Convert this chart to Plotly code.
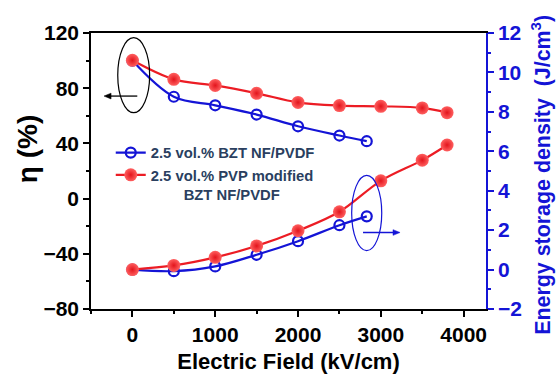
import plotly.graph_objects as go

# ---- data ----
field_bzt = [0, 500, 1000, 1500, 2000, 2500, 2830]
eff_bzt = [100, 73.8, 67.6, 60.9, 52.4, 45.7, 41.6]
ud_bzt = [0.0, -0.08, 0.16, 0.75, 1.44, 2.25, 2.7]

field_pvp = [0, 500, 1000, 1500, 2000, 2500, 3000, 3500, 3800]
eff_pvp = [100.2, 86.4, 82.0, 76.3, 69.7, 67.4, 66.9, 65.7, 62.3]
ud_pvp = [0.0, 0.21, 0.62, 1.2, 1.97, 2.93, 4.5, 5.55, 6.32]

name_bzt = "2.5 vol.% BZT NF/PVDF"
name_pvp = "2.5 vol.% PVP modified<br>" + "\u00a0" * 8 + "BZT NF/PVDF"

BLUE = "#1414d6"
RED = "#ec1c24"
FONT = "Liberation Sans"

red_marker = dict(symbol="circle", size=13, color="#ff6060",
                  gradient=dict(type="radial", color="#e3141c"), line=dict(width=0))
blue_marker = dict(symbol="circle-open", size=10, color=BLUE, line=dict(width=2.2, color=BLUE))

fig = go.Figure()
fig.add_trace(go.Scatter(x=field_bzt, y=eff_bzt, mode="lines+markers", name=name_bzt,
                         line=dict(color=BLUE, width=2.2, shape="spline"), marker=blue_marker,
                         yaxis="y"))
fig.add_trace(go.Scatter(x=field_pvp, y=eff_pvp, mode="lines+markers", name=name_pvp,
                         line=dict(color=RED, width=2.2, shape="spline"), marker=red_marker,
                         yaxis="y"))
fig.add_trace(go.Scatter(x=field_bzt, y=ud_bzt, mode="lines+markers", showlegend=False,
                         line=dict(color=BLUE, width=2.2, shape="spline"), marker=blue_marker,
                         yaxis="y2"))
fig.add_trace(go.Scatter(x=field_pvp, y=ud_pvp, mode="lines+markers", showlegend=False,
                         line=dict(color=RED, width=2.2, shape="spline"), marker=red_marker,
                         yaxis="y2"))

tickfont = dict(family=FONT, size=21, color="black", weight="bold")

fig.update_layout(
    width=556, height=382,
    margin=dict(l=91, r=70, t=33, b=59),
    paper_bgcolor="white", plot_bgcolor="white",
    showlegend=True,
    legend=dict(x=0.05, y=0.625, xanchor="left", yanchor="top",
                bgcolor="rgba(0,0,0,0)", borderwidth=0, valign="top",
                font=dict(family=FONT, size=14.8, weight="bold"), itemwidth=30,
                tracegroupgap=0),
    xaxis=dict(range=[-500, 4270], tick0=0, dtick=1000, ticks="outside", ticklen=6, tickwidth=1.5,
               tickcolor="black", showline=True, linecolor="black", linewidth=1.5, mirror=True,
               showgrid=False, zeroline=False, tickfont=tickfont,
               minor=dict(dtick=500, ticks="outside", ticklen=3, tickcolor="black", tickwidth=1.5),
               title=dict(text="Electric Field (kV/cm)", standoff=9,
                          font=dict(family=FONT, size=22, color="black", weight="bold"))),
    yaxis=dict(range=[-80, 120], tick0=-80, dtick=40, ticks="outside", ticklen=6, tickwidth=1.5,
               tickcolor="black", showline=True, linecolor="black", linewidth=1.5,
               showgrid=False, zeroline=False, tickfont=tickfont,
               minor=dict(dtick=20, ticks="outside", ticklen=3, tickcolor="black", tickwidth=1.5)),
    yaxis2=dict(range=[-2, 12], tick0=-2, dtick=2, overlaying="y", side="right",
                ticks="outside", ticklen=6, tickwidth=1.5, tickcolor=BLUE,
                showline=True, linecolor=BLUE, linewidth=1.5,
                showgrid=False, zeroline=False,
                tickfont=dict(family=FONT, size=21, color=BLUE, weight="bold"),
                minor=dict(dtick=1, ticks="outside", ticklen=3, tickcolor=BLUE, tickwidth=1.5)),
)

# axis titles placed as rotated annotations
fig.add_annotation(text="η (%)", xref="paper", yref="paper", x=-0.162, y=0.579,
                   xanchor="center", yanchor="middle", textangle=-90, showarrow=False,
                   font=dict(family=FONT, size=28, color="black", weight="bold"))
fig.add_annotation(text="Energy storage density  (J/cm<sup>3</sup>)", xref="paper", yref="paper",
                   x=1.139, y=0.486, xanchor="center", yanchor="middle", textangle=-90,
                   showarrow=False,
                   font=dict(family=FONT, size=21.4, color=BLUE, weight="bold"))

# ellipses marking which axis each group belongs to
fig.add_shape(type="circle", xref="x", yref="y", x0=-177, x1=208, y0=62.3, y1=116.6,
              line=dict(color="black", width=1.2))
fig.add_shape(type="circle", xref="x", yref="y2", x0=2648, x1=3011, y0=0.96, y1=4.78,
              line=dict(color=BLUE, width=1.2))

# arrows (shaft + head) pointing to the relevant axis
fig.add_shape(type="line", xref="x", yref="y", x0=59, x1=-300, y0=74.3, y1=74.3,
              line=dict(color="black", width=1.3))
fig.add_shape(type="path", xref="x", yref="y", path="M -343,74.3 L -258,76.4 L -258,72.2 Z",
              fillcolor="black", line=dict(color="black", width=0.5))
fig.add_shape(type="line", xref="x", yref="y2", x0=2785, x1=3190, y0=1.88, y1=1.88,
              line=dict(color=BLUE, width=1.3))
fig.add_shape(type="path", xref="x", yref="y2", path="M 3232,1.88 L 3147,2.025 L 3147,1.735 Z",
              fillcolor=BLUE, line=dict(color=BLUE, width=0.5))

fig.write_html("out.html")
